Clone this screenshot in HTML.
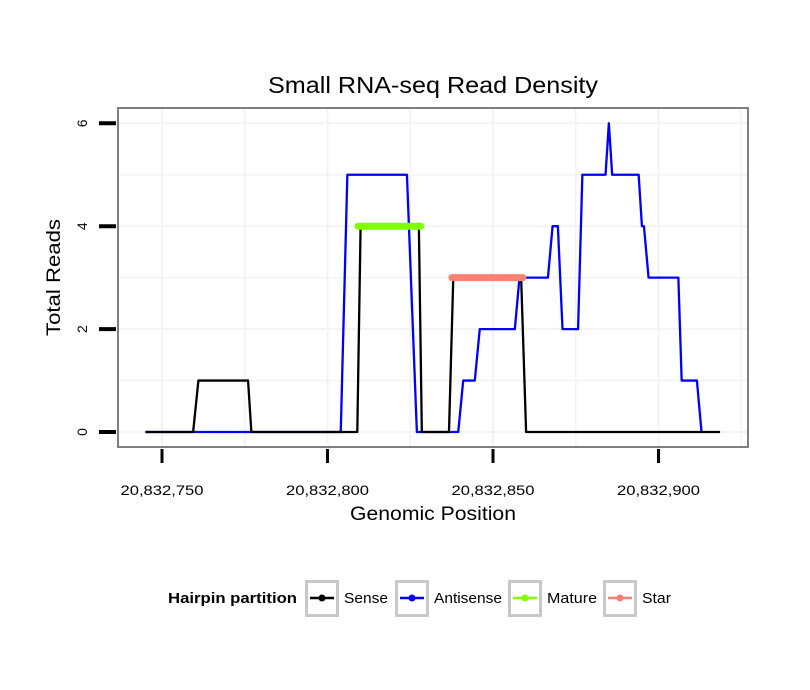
<!DOCTYPE html>
<html><head><meta charset="utf-8"><style>
body{margin:0;background:#fff;font-family:"Liberation Sans",sans-serif}
svg{display:block}
text{font-family:"Liberation Sans",sans-serif}
</style></head><body>
<svg id="chart" width="810" height="690" viewBox="0 0 810 690" xmlns="http://www.w3.org/2000/svg">
<rect x="0" y="0" width="810" height="690" fill="#fff"/>
<text x="268" y="93" font-size="23" textLength="330" lengthAdjust="spacingAndGlyphs">Small RNA-seq Read Density</text>
<g id="grid"></g>
<g id="marks"></g>
<rect x="118" y="108" width="630" height="339" fill="none" stroke="#7f7f7f" stroke-width="2"/>
<g id="axes"></g>
<text x="350" y="520" font-size="19" textLength="166" lengthAdjust="spacingAndGlyphs">Genomic Position</text>
<text transform="translate(60,336) rotate(-90)" font-size="19" textLength="117" lengthAdjust="spacingAndGlyphs">Total Reads</text>
<g>
<text x="168" y="603" font-size="15" font-weight="bold" textLength="129" lengthAdjust="spacingAndGlyphs">Hairpin partition</text>
<g id="legend"></g>
</g>
</svg>
<script>
const xTicks=[20832750,20832800,20832850,20832900];
const xTickLabels=["20,832,750","20,832,800","20,832,850","20,832,900"];
const yTicks=[0,2,4,6];
const sensePos=[20832745,20832759.4,20832761,20832776,20832777,20832809,20832810,20832827.6,20832828.5,20832836.7,20832838,20832858.5,20832860,20832918.6];
const senseVal=[0,0,1,1,0,0,4,4,0,0,3,3,0,0];
const antiPos=[20832745,20832804,20832806,20832824,20832827,20832839.5,20832841,20832844.5,20832846,20832856.6,20832858,20832866.6,20832868,20832869.6,20832871,20832875.7,20832877,20832884,20832885,20832886,20832894,20832895,20832895.6,20832897,20832906,20832907,20832911.6,20832913];
const antiVal=[0,0,5,5,0,0,1,1,2,2,3,3,4,4,2,2,5,5,6,5,5,4,4,3,3,1,1,0];
const maturePos=[20832809.2,20832828.2];const matureVal=[4,4];
const starPos=[20832837.6,20832859];const starVal=[3,3];
const legendLabels=["Sense","Antisense","Mature","Star"];
const legendColors=["#000000","#0000ff","#80ff00","#fa8072"];
const legendWidths=[44,68,50,29];

const X=v=>162+(v-20832750)*3.31;
const Y=v=>432-v*51.45;
const NS="http://www.w3.org/2000/svg";
function mk(parent,tag,attrs){const e=document.createElementNS(NS,tag);for(const k in attrs)e.setAttribute(k,attrs[k]);document.getElementById(parent).appendChild(e);return e;}

[20832725,20832750,20832775,20832800,20832825,20832850,20832875,20832900,20832925].forEach(v=>{const x=X(v);if(x>119&&x<747){
const g=mk('grid','line',{x1:x,x2:x,y1:109,y2:446,stroke:'#f3f3f3','stroke-width':v%50===0?2:1.5});

}});
[0,1,2,3,4,5,6].forEach(v=>{const y=Y(v);
const g=mk('grid','line',{x1:119,x2:747,y1:y,y2:y,stroke:'#f3f3f3','stroke-width':v%2===0?2:1.5});

});

xTicks.forEach((v,i)=>{
const t=mk('axes','line',{x1:X(v),x2:X(v),y1:449,y2:463,stroke:'#000','stroke-width':3});


const l=mk('axes','text',{x:X(v)-41.5,y:495,'font-size':14,textLength:83,lengthAdjust:'spacingAndGlyphs'});
l.textContent=xTickLabels[i];

});
yTicks.forEach(v=>{
const t=mk('axes','line',{x1:99,x2:116,y1:Y(v),y2:Y(v),stroke:'#000','stroke-width':4});


const l=mk('axes','text',{'text-anchor':'middle','font-size':14,transform:`translate(87,${Y(v)}) rotate(-90)`});
l.textContent=v;

});

function line(pos,val,color,w,name,cap){
const p=mk('marks','polyline',{points:pos.map((v,i)=>X(v)+','+Y(val[i])).join(' '),fill:'none',stroke:color,'stroke-width':w,'stroke-linejoin':'round','stroke-linecap':cap||'butt'});

}
line(antiPos,antiVal,'#0000ff',2.3,'antisense-line');
line(sensePos,senseVal,'#000000',2.3,'sense-line');
line(maturePos,matureVal,'#80ff00',7,'mature-segment','round');
line(starPos,starVal,'#fa8072',7,'star-segment','round');

const boxX=[305,395,508,603];
legendLabels.forEach((lab,i)=>{
const b=mk('legend','rect',{x:boxX[i]+1.5,y:581.5,width:31,height:34,fill:'#fff',stroke:'#c8c8c8','stroke-width':3});


const l=mk('legend','line',{x1:boxX[i]+5,x2:boxX[i]+29,y1:598,y2:598,stroke:legendColors[i],'stroke-width':2.5});


const c=mk('legend','circle',{cx:boxX[i]+17,cy:598,r:3.5,fill:legendColors[i]});


const t=mk('legend','text',{x:boxX[i]+39,y:603,'font-size':15,textLength:legendWidths[i],lengthAdjust:'spacingAndGlyphs'});
t.textContent=lab;

});
</script>
</body></html>
